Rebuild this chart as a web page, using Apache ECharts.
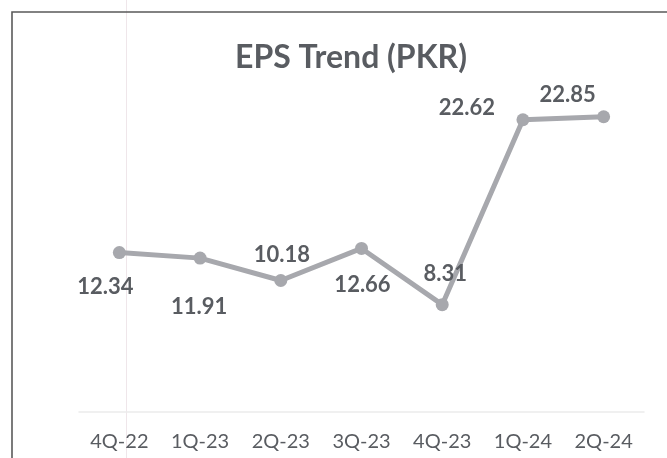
<!DOCTYPE html>
<html>
<head>
<meta charset="utf-8">
<script src="https://cdn.jsdelivr.net/npm/echarts@6/dist/echarts.min.js"></script>
<style>
html,body{margin:0;padding:0;background:#fff;}
#c{width:667px;height:458px;}
</style>
</head>
<body>
<div id="c"></div>
<script>
var categories = ['4Q-22', '1Q-23', '2Q-23', '3Q-23', '4Q-23', '1Q-24', '2Q-24'];
var epsValues = [12.34, 11.91, 10.18, 12.66, 8.31, 22.62, 22.85];
var titleText = 'EPS Trend (PKR)';

// label placement (style only), relative to each point
var labelOffsets = [[-14, 34], [-1, 49], [1, -26], [1, 36], [3, -31], [-56, -12], [-36, -22]];

var chart = echarts.init(document.getElementById('c'));
var FONT = 'Lato, "Noto Sans", sans-serif';

var seriesData = epsValues.map(function (v, i) {
  return {
    value: v,
    label: { offset: labelOffsets[i] }
  };
});

chart.setOption({
  backgroundColor: '#ffffff',
  animation: false,
  title: {
    text: titleText,
    left: 346,
    top: 37,
    textAlign: 'center',
    textStyle: { fontFamily: FONT, fontSize: 32, fontWeight: 'bold', color: '#595c61' }
  },
  graphic: [
    { type: 'rect', shape: { x: 12, y: 12, width: 720, height: 520 },
      style: { fill: 'none', stroke: '#5a5a5a', lineWidth: 1.6 }, silent: true, z: -1 },
    { type: 'line', shape: { x1: 126.5, y1: 0, x2: 126.5, y2: 458 },
      style: { stroke: '#efe6ea', lineWidth: 1 }, silent: true, z: -2 }
  ],
  grid: { left: 79, right: 23, top: 89, bottom: 46 },
  xAxis: {
    type: 'category',
    data: categories,
    boundaryGap: true,
    axisLine: { show: true, lineStyle: { color: '#ececec', width: 1.5 } },
    axisTick: { show: false },
    axisLabel: { fontFamily: FONT, fontSize: 20, color: '#595c61', margin: 20 }
  },
  yAxis: {
    type: 'value',
    min: 0,
    max: 25,
    show: false,
    splitLine: { show: false }
  },
  series: [{
    type: 'line',
    data: seriesData,
    symbol: 'circle',
    symbolSize: 13,
    lineStyle: { color: '#a7a8ad', width: 5 },
    itemStyle: { color: '#a7a8ad' },
    label: {
      show: true,
      position: 'inside',
      fontFamily: FONT,
      fontSize: 22,
      fontWeight: 'bold',
      color: '#595c61'
    }
  }]
});
</script>
</body>
</html>
